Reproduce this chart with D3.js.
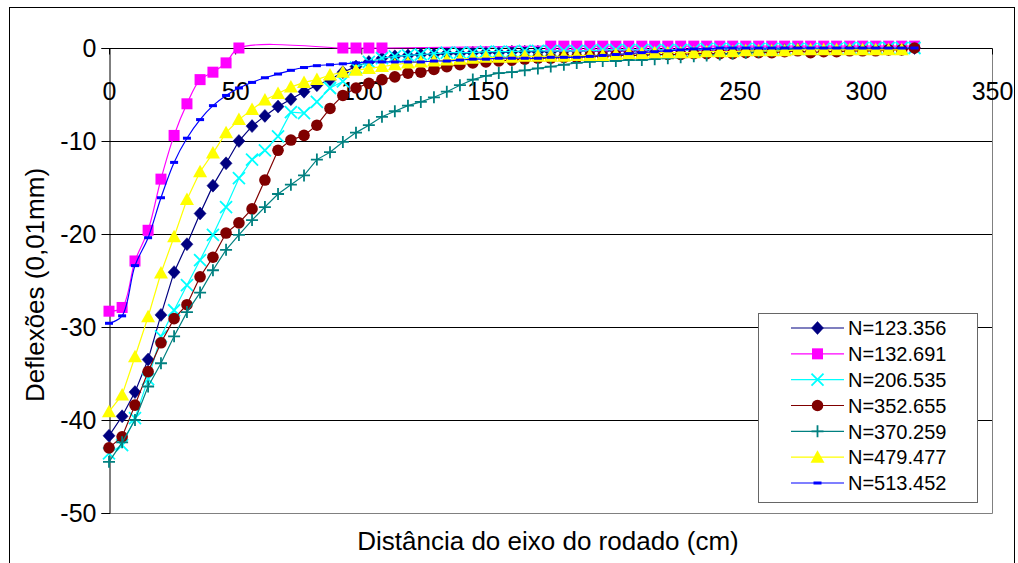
<!DOCTYPE html>
<html><head><meta charset="utf-8">
<script src="https://cdn.jsdelivr.net/npm/d3@7"></script>
<style>body{margin:0;background:#fff}svg{display:block;font-family:"Liberation Sans",Arial,sans-serif}</style>
</head><body><svg id="c" width="1018" height="563"></svg>
<script>
// Distância do eixo do rodado (cm)
const distancia = [0,5.2,10.3,15.5,20.6,25.8,30.9,36.1,41.2,46.4,51.5,56.7,61.8,67.0,72.1,77.3,82.4,87.6,92.7,97.9,103.0,108.2,113.3,118.5,123.6,128.8,133.9,139.1,144.2,149.4,154.5,159.7,164.8,170.0,175.1,180.3,185.4,190.6,195.7,200.9,206.0,211.2,216.3,221.5,226.6,231.8,236.9,242.1,247.2,252.4,257.5,262.7,267.8,273.0,278.1,283.3,288.4,293.6,298.7,303.9,309.0,314.2,319.3];

const seriesNames = ["N=123.356","N=132.691","N=206.535","N=352.655","N=370.259","N=479.477","N=513.452"];

const n123356 = [-41.7,-39.6,-37.0,-33.5,-28.7,-24.1,-21.1,-17.8,-14.8,-12.4,
 -10.0,-8.4,-7.3,-6.3,-5.5,-4.7,-4.0,-3.4,-2.6,-2.0,
 -1.5,-1.1,-0.9,-0.8,-0.7,-0.7,-0.6,-0.6,-0.5,-0.5,
 -0.5,-0.4,-0.4,-0.4,-0.4,-0.3,-0.3,-0.3,-0.3,-0.3,
 -0.3,-0.3,-0.2,-0.2,-0.2,-0.2,-0.2,-0.2,-0.2,-0.2,
 -0.2,-0.1,-0.1,-0.1,-0.1,-0.1,-0.1,-0.1,-0.1,-0.1,
 -0.1,-0.1,0.0];
const n132691 = [-28.3,-27.9,-22.9,-19.6,-14.1,-9.4,-6.0,-3.4,-2.6,-1.6,
 0.0,null,null,null,null,null,null,null,0.0,0.0,
 0.0,0.0,null,null,null,null,null,null,null,null,
 null,null,null,null,0.2,0.2,0.2,0.2,0.2,0.2,
 0.2,0.2,0.2,0.2,0.2,0.2,0.2,0.2,0.2,0.2,
 0.2,0.2,0.2,0.2,0.2,0.2,0.2,0.2,0.2,0.2,
 0.2,0.2,0.2];
const n206535 = [-43.6,-42.7,-39.8,-35.6,-31.0,-28.2,-25.5,-22.8,-20.1,-17.1,
 -14.0,-12.0,-11.0,-9.5,-6.9,-7.0,-5.8,-4.3,-3.6,-2.1,
 -1.5,-1.1,-0.9,-0.8,-0.7,-0.6,-0.5,-0.5,-0.5,-0.4,
 -0.4,-0.4,-0.3,-0.3,-0.3,-0.3,-0.3,-0.3,-0.2,-0.2,
 -0.2,-0.2,-0.2,-0.2,-0.2,-0.2,-0.1,-0.1,-0.1,-0.1,
 -0.1,-0.1,-0.1,-0.1,-0.1,-0.1,-0.1,0.0,0.0,0.0,
 0.0,0.0,0.0];
const n352655 = [-43.0,-41.8,-38.4,-34.8,-31.7,-29.1,-27.6,-24.6,-22.5,-19.9,
 -18.8,-17.3,-14.2,-11.0,-9.9,-9.4,-8.3,-6.5,-5.1,-4.3,
 -3.8,-3.4,-3.1,-2.7,-2.6,-2.3,-2.0,-1.8,-1.6,-1.5,
 -1.4,-1.3,-1.2,-1.1,-1.1,-1.0,-1.0,-0.9,-0.9,-0.8,
 -0.8,-0.8,-0.7,-0.7,-0.7,-0.6,-0.6,-0.6,-0.6,-0.5,
 -0.5,-0.5,-0.4,-0.3,-0.5,-0.4,-0.4,-0.3,-0.3,-0.3,
 -0.2,-0.2,0.0];
const n370259 = [-44.5,-42.4,-40.0,-36.4,-33.9,-31.0,-28.4,-26.3,-23.9,-21.7,
 -20.1,-18.5,-17.1,-15.7,-14.7,-13.7,-12.0,-11.2,-10.1,-9.1,
 -8.3,-7.4,-6.8,-6.2,-5.8,-5.3,-4.7,-4.0,-3.4,-3.0,
 -2.7,-2.6,-2.4,-2.2,-2.0,-1.8,-1.6,-1.5,-1.4,-1.4,
 -1.3,-1.3,-1.2,-1.1,-1.0,-0.9,-0.8,-0.7,-0.6,-0.5,
 -0.4,-0.3,-0.2,-0.1,null,null,null,null,null,null,
 null,null,null];
const n479477 = [-39.1,-37.3,-33.2,-28.9,-24.2,-20.3,-16.3,-13.3,-11.3,-9.1,
 -7.7,-6.6,-5.6,-4.9,-4.2,-3.7,-3.4,-2.9,-2.6,-2.4,
 -2.2,-2.0,-1.8,-1.6,-1.5,-1.4,-1.3,-1.2,-1.1,-1.0,
 -1.0,-1.0,-0.9,-0.9,-0.9,-0.9,-0.8,-0.8,-0.8,-0.7,
 -0.6,-0.6,-0.5,-0.5,-0.5,-0.5,-0.4,-0.4,-0.4,-0.3,
 -0.3,-0.3,-0.3,-0.2,-0.2,-0.2,-0.2,-0.2,-0.2,-0.2,
 -0.2,-0.2,null];
const n513452 = [-29.6,-28.8,-23.4,-20.4,-16.1,-12.3,-9.7,-7.7,-6.2,-5.1,
 -4.3,-3.7,-3.2,-2.8,-2.4,-2.1,-1.9,-1.8,-1.7,-1.6,
 -1.5,-1.5,-1.5,-1.5,-1.5,-1.4,-1.4,-1.3,-1.2,-1.2,
 -1.1,-1.1,-1.1,-1.1,-1.0,-1.0,-1.0,-0.9,-0.8,-0.7,
 -0.6,-0.5,-0.4,-0.3,-0.2,-0.1,-0.1,0.0,0.0,0.0,
 0.0,0.0,0.0,0.0,0.0,0.0,0.0,0.0,0.0,0.0,
 0.0,0.0,0.0];

const xTicks = [0,50,100,150,200,250,300,350];
const yTicks = [0,-10,-20,-30,-40,-50];

const seriesValues = [n123356,n132691,n206535,n352655,n370259,n479477,n513452];
const colors = ["#000080","#FF00FF","#00FFFF","#800000","#008080","#FFFF00","#0000FF"];
const markers = ["diamond","square","x","circle","plus","triangle","dash"];
const smooth = [false,true,false,false,false,false,true];

const svg = d3.select("#c");
const W=1018,H=563;
svg.append("rect").attr("x",0).attr("y",0).attr("width",W).attr("height",H).attr("fill","#fff");
svg.append("rect").attr("x",9.5).attr("y",7.5).attr("width",1005).attr("height",600)
  .attr("fill","none").attr("stroke","#000").attr("stroke-width",1);

const x = d3.scaleLinear().domain([0,350]).range([109,992]);
const y = d3.scaleLinear().domain([-50,0]).range([513,48]);

// gridlines
svg.append("g").selectAll("line").data(yTicks.filter(v=>v!==0 && v!==-50)).join("line")
  .attr("x1",x(0)).attr("x2",x(350)).attr("y1",d=>Math.round(y(d))+0.5).attr("y2",d=>Math.round(y(d))+0.5)
  .attr("stroke","#000").attr("stroke-width",1);
// plot border (right, bottom)
svg.append("path").attr("d",`M${x(350)+0.5},${y(0)} V${Math.round(y(-50))+0.5} H${x(0)}`)
  .attr("fill","none").attr("stroke","#808080").attr("stroke-width",1);

// Y axis (left)
const yAxis = d3.axisLeft(y).tickValues(yTicks).tickSize(8).tickPadding(5).tickFormat(d=>d===0?"0":String(d).replace("−","-"));
const gy = svg.append("g").attr("transform",`translate(${x(0)+0.5},0)`).call(yAxis);
gy.select(".domain").attr("stroke","#000");
gy.selectAll(".tick line").attr("stroke","#000");
gy.selectAll("text").attr("font-size",25).attr("font-family","Liberation Sans, Arial, sans-serif").attr("fill","#000");

// X axis at y=0 (top) with labels below
const xAxis = d3.axisBottom(x).tickValues(xTicks).tickSize(6).tickPadding(28).tickFormat(d3.format("d"));
const gx = svg.append("g").attr("transform",`translate(0,${y(0)+0.5})`).call(xAxis);
gx.select(".domain").attr("stroke","#000").attr("d",`M${x(0)},0H${x(350)}`);
gx.selectAll(".tick line").attr("stroke","#000");
gx.selectAll("text").attr("font-size",25).attr("font-family","Liberation Sans, Arial, sans-serif").attr("fill","#000");

// axis titles
svg.append("text").attr("x",548).attr("y",550).attr("text-anchor","middle")
  .attr("font-size",26).text("Distância do eixo do rodado (cm)");
svg.append("text").attr("transform","translate(44,285) rotate(-90)").attr("text-anchor","middle")
  .attr("font-size",26).text("Deflexões (0,01mm)");

function drawMarker(g, type, color, cx, cy){
  if(type==="diamond"){
    g.append("path").attr("d",`M${cx},${cy-6.5}L${cx+6},${cy}L${cx},${cy+6.5}L${cx-6},${cy}Z`).attr("fill",color).attr("stroke",color).attr("stroke-width",0.5);
  } else if(type==="square"){
    g.append("rect").attr("x",cx-5.5).attr("y",cy-5.5).attr("width",11).attr("height",11).attr("fill",color);
  } else if(type==="x"){
    g.append("path").attr("d",`M${cx-6},${cy-6}L${cx+6},${cy+6}M${cx+6},${cy-6}L${cx-6},${cy+6}`).attr("stroke",color).attr("stroke-width",1.8);
  } else if(type==="circle"){
    g.append("circle").attr("cx",cx).attr("cy",cy).attr("r",5.8).attr("fill",color);
  } else if(type==="plus"){
    g.append("path").attr("d",`M${cx-6},${cy}L${cx+6},${cy}M${cx},${cy-6}L${cx},${cy+6}`).attr("stroke",color).attr("stroke-width",1.8);
  } else if(type==="triangle"){
    g.append("path").attr("d",`M${cx},${cy-7}L${cx+7},${cy+5.5}L${cx-7},${cy+5.5}Z`).attr("fill",color);
  } else if(type==="dash"){
    g.append("rect").attr("x",cx-4).attr("y",cy-1.5).attr("width",8).attr("height",3).attr("fill",color);
  }
}

const plotG = svg.append("g");
seriesValues.forEach((vals,i)=>{
  const pts = distancia.map((d,k)=>[d,vals[k]]).filter(p=>p[1]!==null && p[1]!==undefined);
  const g = plotG.append("g");
  const line = d3.line().x(p=>x(p[0])).y(p=>y(p[1]))
    .curve(smooth[i]?d3.curveCatmullRom.alpha(0.5):d3.curveLinear);
  g.append("path").attr("d",line(pts)).attr("fill","none").attr("stroke",colors[i]).attr("stroke-width",1.2);
  pts.forEach(p=>drawMarker(g,markers[i],colors[i],x(p[0]),y(p[1])));
});

// legend
const lg = svg.append("g");
lg.append("rect").attr("x",758.5).attr("y",313.5).attr("width",219).attr("height",189)
  .attr("fill","#fff").attr("stroke","#666").attr("stroke-width",1);
const rowY = d3.scalePoint().domain(seriesNames).range([328,483]);
seriesNames.forEach((nm,i)=>{
  const cy = rowY(nm);
  lg.append("line").attr("x1",791).attr("x2",844).attr("y1",cy).attr("y2",cy).attr("stroke",colors[i]).attr("stroke-width",1.2);
  drawMarker(lg,markers[i],colors[i],817.5,cy);
  lg.append("text").attr("x",848).attr("y",cy).attr("dy","0.36em").attr("font-size",20).text(nm);
});
</script></body></html>
